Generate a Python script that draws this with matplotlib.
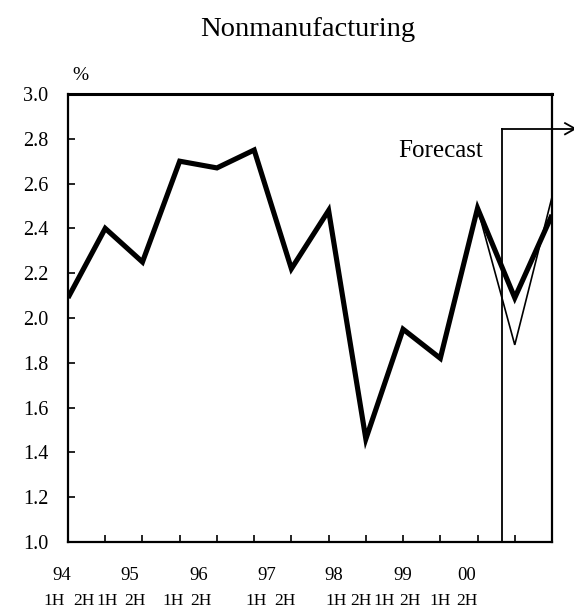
import matplotlib
matplotlib.use("Agg")
import matplotlib.pyplot as plt

plt.rcParams['font.family'] = ['Liberation Serif', 'DejaVu Serif']

# Half-year periods, 1994 1H .. 2000 2H
periods = ['94 1H', '94 2H', '95 1H', '95 2H', '96 1H', '96 2H', '97 1H',
           '97 2H', '98 1H', '98 2H', '99 1H', '99 2H', '00 1H', '00 2H']
main_series = [2.09, 2.40, 2.25, 2.70, 2.67, 2.75, 2.22,
               2.48, 1.46, 1.95, 1.82, 2.49, 2.09, 2.46]
# Alternative forecast path, starting from 99 2H
alt_start = 11
alt_series = [2.49, 1.88, 2.54]

year_labels = ['94', '95', '96', '97', '98', '99', '00']
half_labels = ['1H', '2H'] * 7
y_ticks = [1.0, 1.2, 1.4, 1.6, 1.8, 2.0, 2.2, 2.4, 2.6, 2.8, 3.0]

# label placement (figure pixels)
year_px = [62, 130, 199, 267, 334, 403, 467]
half_px = [54, 84, 107, 135, 173, 201, 256, 285, 336, 361, 384, 410, 440, 467]

W, H = 574, 614
fig = plt.figure(figsize=(W / 100, H / 100), dpi=100)
ax_l, ax_r, ax_t, ax_b = 68, 552, 94, 542
ax = fig.add_axes([ax_l / W, 1 - ax_b / H, (ax_r - ax_l) / W, (ax_b - ax_t) / H])

x = list(range(len(periods)))
ax.plot(x, main_series, color='black', lw=3.7, solid_joinstyle='miter',
        solid_capstyle='butt', zorder=3)
ax.plot(x[alt_start:alt_start + len(alt_series)], alt_series, color='black',
        lw=1.2, solid_joinstyle='miter', zorder=2)

ax.set_xlim(0, len(periods) - 1)
ax.set_ylim(1.0, 3.0)
ax.set_xticks(x[1:-1])
ax.set_xticklabels([])
ax.set_yticks(y_ticks)
ax.set_yticklabels([f'{v:.1f}' for v in y_ticks], fontsize=14.5)
ax.tick_params(axis='both', direction='in', length=5, width=1.2, color='black')
ax.tick_params(axis='y', pad=14)
for s in ax.spines.values():
    s.set_linewidth(1.6)
    s.set_color('black')
ax.spines['top'].set_linewidth(2.2)

# Forecast bracket
fx = 11.65
fy = 2.845
ax.plot([fx, fx], [1.0, fy], color='black', lw=1.3, clip_on=False, zorder=4)
ax.plot([fx, 13.62], [fy, fy], color='black', lw=1.3, clip_on=False, zorder=4)
ax.plot([13.35, 13.62, 13.35], [fy + 0.025, fy, fy - 0.025], color='black',
        lw=1.3, clip_on=False, zorder=4)
ax.text(11.15, 2.719, 'Forecast', ha='right', va='baseline', fontsize=18)

fig.text(80 / W, 1 - 75 / H, '%', ha='center', va='center', fontsize=14)
fig.text(308 / W, 1 - 30 / H, 'Nonmanufacturing', ha='center', va='center',
         fontsize=20.5)

for lab, px in zip(year_labels, year_px):
    fig.text(px / W, 1 - 575 / H, lab, ha='center', va='center', fontsize=13.5)
for lab, px in zip(half_labels, half_px):
    fig.text(px / W, 1 - 601 / H, lab, ha='center', va='center', fontsize=12.5)

fig.savefig('out.png', dpi=100)
